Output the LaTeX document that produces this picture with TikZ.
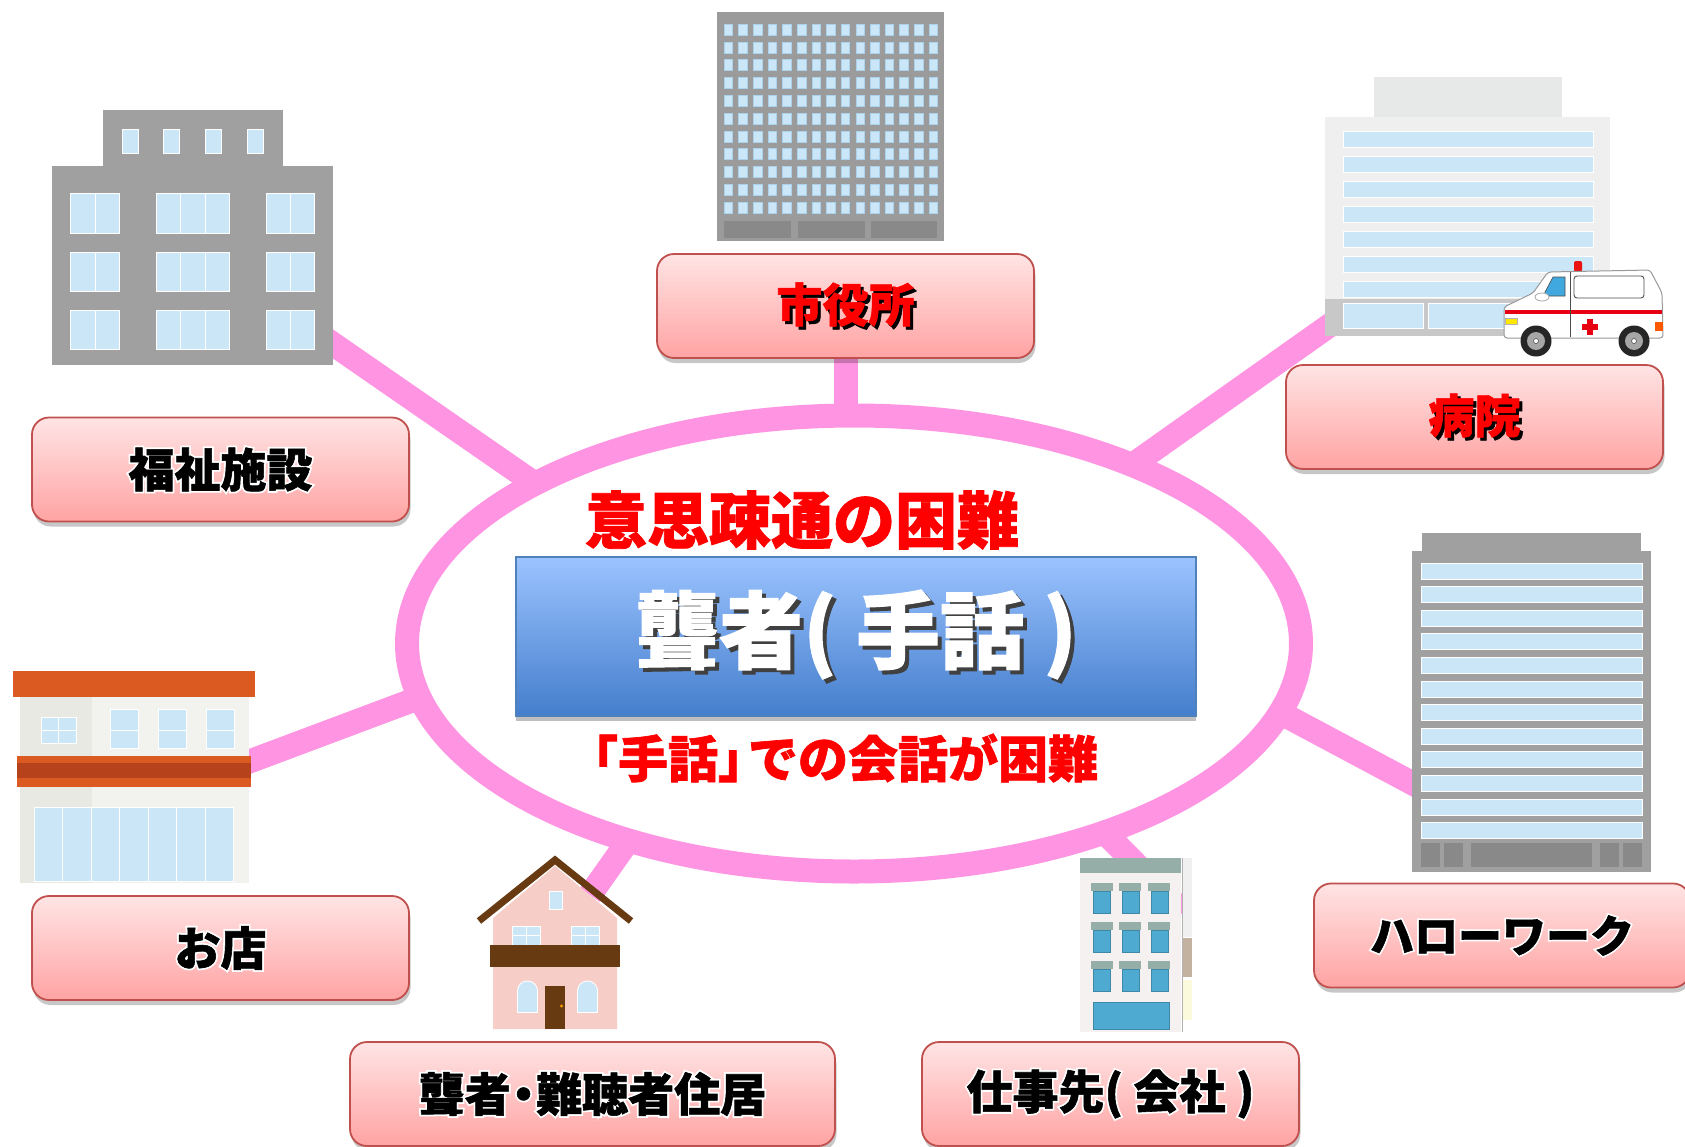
\documentclass[tikz,border=0pt]{standalone}
\usepackage{fontspec}
\setmainfont{Noto Sans CJK JP}[BoldFeatures={FakeBold=1.3}]
% a heavily emboldened face, used in white behind black lettering as a halo
\newfontfamily\halofont{Noto Sans CJK JP}[BoldFeatures={FakeBold=9}]
\usetikzlibrary{shapes.geometric,shadows}

\definecolor{spoke}{RGB}{255,148,226}
\definecolor{lblTop}{RGB}{255,228,228}
\definecolor{lblBot}{RGB}{255,163,163}
\definecolor{lblEdge}{RGB}{192,80,77}
\definecolor{glass}{RGB}{202,230,247}
\definecolor{glassEdge}{RGB}{170,210,236}
\definecolor{bldGray}{RGB}{160,160,160}
\definecolor{bldDark}{RGB}{137,137,137}
\definecolor{hospWall}{RGB}{239,239,239}
\definecolor{hospTop}{RGB}{231,232,232}
\definecolor{hospBand}{RGB}{200,200,200}
\definecolor{blueTop}{RGB}{155,195,255}
\definecolor{blueBot}{RGB}{68,126,204}
\definecolor{blueEdge}{RGB}{79,129,189}
\definecolor{txtRed}{RGB}{255,0,0}
\definecolor{shopRoof}{RGB}{218,90,34}
\definecolor{shopBand}{RGB}{181,66,26}
\definecolor{shopWall}{RGB}{242,242,238}
\definecolor{shopWallDk}{RGB}{233,233,228}
\definecolor{houseWall}{RGB}{246,205,199}
\definecolor{houseBrown}{RGB}{104,58,18}
\definecolor{officeCap}{RGB}{150,174,168}
\definecolor{officeWall}{RGB}{245,241,240}
\definecolor{officeBlue}{RGB}{79,170,210}
\definecolor{ambRed}{RGB}{230,0,18}
\definecolor{ambBlue}{RGB}{64,168,222}

% text with a hard cast shadow: text colour, shadow colour, offset, text
\newcommand\castshadow[4]{\leavevmode\rlap{\hspace{#3}\raisebox{-#3}{\color{#2}#4}}{\color{#1}#4}}
% black lettering on a white halo
\newcommand\haloed[1]{\leavevmode\rlap{\halofont\bfseries\color{white}#1}{\color{black}#1}}
% narrow middle dot and corner brackets
\newcommand\middot{\makebox[0.55em]{・}}
\newcommand\lbrk{\makebox[0.6em][r]{「}}
\newcommand\rbrk{\makebox[0.6em][l]{」}}

\begin{document}
\begin{tikzpicture}[x=1pt,y=-1pt,
  tag/.style={draw=lblEdge, line width=1.8pt, rounded corners=17pt,
    top color=lblTop, bottom color=lblBot, minimum height=104pt, inner sep=0pt,
    drop shadow={shadow xshift=1.5pt, shadow yshift=-5pt, opacity=0.22, fill=black},
    font=\bfseries\fontsize{46}{50}\selectfont},
  spokeline/.style={draw=spoke, line width=24pt},
  pane/.style={fill=glass, draw=white, line width=1pt},
  strip/.style={fill=glass, draw=white, line width=1pt}]

\useasboundingbox (0,0) rectangle (1685,1146);
\fill[white] (0,0) rectangle (1685,1146);

% ---------- spokes (under the ring) ----------
\coordinate (spT1) at (846,350);   \coordinate (spT2) at (846,470);
\coordinate (spUL1) at (320,335);  \coordinate (spUL2) at (599,528);
\coordinate (spUR1) at (1340,318); \coordinate (spUR2) at (1080,502);
\coordinate (spL1) at (240,765);   \coordinate (spL2) at (480,675);
\coordinate (spR1) at (1425,790);  \coordinate (spR2) at (1230,686);
\coordinate (spBL1) at (590,895);  \coordinate (spBL2) at (650,810);
\coordinate (spBR1) at (1183,912); \coordinate (spBR2) at (1060,787);
\foreach \s in {T,UL,UR,L,R,BL,BR}
  \draw[spokeline] (sp\s1) -- (sp\s2);

% ---------- ring ----------
\node[ellipse, draw=spoke, line width=24pt, fill=white, minimum width=894pt,
      minimum height=456pt, inner sep=0pt] (ring) at (854,643.5) {};

% ---------- centre ----------
\node[font=\bfseries\fontsize{62}{66}\selectfont, text=txtRed] (commdiff) at (802,520) {意思疎通の困難};
\node[draw=blueEdge, line width=1.2pt, top color=blueTop, bottom color=blueBot,
      minimum width=680pt, minimum height=159pt, inner sep=0pt,
      drop shadow={shadow xshift=0pt, shadow yshift=-5pt, opacity=0.25, fill=black},
      font=\bfseries\fontsize{84}{88}\selectfont] (deaf) at (856,636.5)
      {\castshadow{white}{black!75}{4pt}{聾者( 手話 )}};
\node[font=\bfseries\fontsize{50}{54}\selectfont, text=txtRed] (signtalk) at (843,758) {\lbrk 手話\rbrk での会話が困難};

% ---------- welfare facility building ----------
\fill[bldGray] (103,110) rectangle (283,166);
\fill[bldGray] (52,166) rectangle (333,365);
\foreach \x in {122,163,205,247}
  \filldraw[pane] (\x,129) rectangle +(16,24);
\foreach \y/\h in {193/40,252/39,310/39}{
  \filldraw[pane] (70,\y) rectangle +(25,\h);
  \filldraw[pane] (95,\y) rectangle +(24,\h);
  \filldraw[pane] (156,\y) rectangle +(24,\h);
  \filldraw[pane] (180,\y) rectangle +(25,\h);
  \filldraw[pane] (205,\y) rectangle +(24,\h);
  \filldraw[pane] (266,\y) rectangle +(24,\h);
  \filldraw[pane] (290,\y) rectangle +(24,\h);
}

% ---------- city hall building ----------
\fill[bldGray!97!black] (717,12) rectangle (944,241);
\foreach \i in {0,...,14}
  \foreach \j in {0,...,10}
    \filldraw[fill=glass, draw=glassEdge, line width=0.4pt] ({724+\i*14.64},{24+\j*17.8}) rectangle +(8.5,11);
\fill[bldDark] (724,221) rectangle (791,238);
\fill[bldDark] (798,221) rectangle (865,238);
\fill[bldDark] (871,221) rectangle (937,238);

% ---------- hospital ----------
\fill[hospTop] (1374,77) rectangle (1562,117);
\fill[hospWall] (1325,117) rectangle (1610,336);
\foreach \k in {0,...,6}
  \filldraw[strip] (1343,{131+\k*25}) rectangle (1593,{147+\k*25});
\fill[hospBand] (1325,299) rectangle (1610,336);
\filldraw[pane] (1343,303) rectangle (1423,328);
\filldraw[pane] (1428,303) rectangle (1560,328);

% ambulance
\fill[ambRed!85!orange, rounded corners=2pt] (1574,261) rectangle (1582,272);
\filldraw[fill=white, draw=gray!80, line width=1pt, rounded corners=3pt]
  (1504,307) -- (1533,293) -- (1548,272) -- (1650,270) -- (1662,293) -- (1663,338) -- (1504,338) -- cycle;
\fill[ambRed] (1505,310) rectangle (1662,314);
\draw[gray!60!black, line width=0.9pt, rounded corners=3pt] (1574,276) rectangle (1644,298);
\draw[gray!60!black, line width=0.9pt] (1570,272) -- (1570,337);
\filldraw[fill=ambBlue, draw=gray!60!black, line width=0.6pt]
  (1545,292) -- (1553,277) -- (1565,277) -- (1565,296) -- (1545,296) -- cycle;
\filldraw[fill=white, draw=gray!70, line width=0.8pt] (1542,297) ellipse [x radius=7, y radius=4];
\fill[ambRed] (1587,319) rectangle (1593,335);
\fill[ambRed] (1582,324) rectangle (1598,330);
\filldraw[fill=yellow!90!orange, draw=gray!60, line width=0.5pt] (1505,318) rectangle (1517,324);
\fill[orange!70!red] (1655,322) rectangle (1663,331);
\foreach \wx in {1536,1634}{
  \fill[black!85] (\wx,341) circle (15.5);
  \fill[gray!70] (\wx,341) circle (9);
  \filldraw[fill=white, draw=gray!60!black, line width=0.6pt] (\wx,341) circle (2.5);
}

% ---------- shop ----------
\fill[shopWall] (20,697) rectangle (249,883);
\fill[shopWallDk] (20,697) rectangle (92,883);
\fill[shopRoof] (13,671) rectangle (255,697);
\filldraw[pane] (41,717) rectangle (58.5,730);
\filldraw[pane] (58.5,717) rectangle (76,730);
\filldraw[pane] (41,730) rectangle (58.5,743);
\filldraw[pane] (58.5,730) rectangle (76,743);
\foreach \x in {110,158,206}{
  \filldraw[pane] (\x,709) rectangle +(28,21);
  \filldraw[pane] (\x,730) rectangle +(28,18);
}
\fill[shopRoof] (17,756) rectangle (251,787);
\fill[shopBand] (17,763) rectangle (251,778);
\foreach \k in {0,...,6}
  \filldraw[pane] ({34+\k*28.57},807) rectangle +(28.57,74);

% ---------- Hello Work building ----------
\fill[bldGray] (1422,533) rectangle (1641,551);
\fill[bldGray] (1412,551) rectangle (1651,872);
\foreach \k in {0,...,11}
  \filldraw[strip] (1421,{563+\k*23.6}) rectangle (1642,{579+\k*23.6});
\foreach \a/\b in {1421/1440,1444/1463,1471/1592,1600/1619,1623/1642}
  \fill[bldDark] (\a,843) rectangle (\b,867);

% ---------- house ----------
\fill[houseWall] (493,1029) -- (493,918) -- (555,866) -- (617,918) -- (617,1029) -- cycle;
\draw[houseBrown, line width=7pt] (479,921) -- (555,860) -- (631,921);
\filldraw[pane] (549,891) rectangle (562,909);
\foreach \x in {512,571}{
  \filldraw[pane] (\x,926) rectangle +(14,9.5);
  \filldraw[pane] (\x+14,926) rectangle +(14,9.5);
  \filldraw[pane] (\x,935.5) rectangle +(14,9.5);
  \filldraw[pane] (\x+14,935.5) rectangle +(14,9.5);
}
\fill[houseBrown] (490,945) rectangle (620,967);
\foreach \x in {518,578}{
  \fill[white] (\x-1,992) rectangle (\x+20,1013);
  \fill[white] (\x+9.5,991) circle (10.5);
  \fill[glass] (\x,992) rectangle (\x+19,1012);
  \fill[glass] (\x+9.5,991) circle (9.5);
}
\fill[houseBrown] (545,986) rectangle (565,1029);
\fill[orange!80!yellow] (561.5,1006) circle (1.6);

% ---------- company building ----------
\fill[officeWall] (1080,873) rectangle (1181,1032);
\fill[officeCap] (1080,858) rectangle (1181,873);
\foreach \r in {883,922,961}
  \foreach \c/\w in {1091/1093,1119/1122,1148/1151}{
    \fill[officeCap] (\c,\r) rectangle +(22,8);
    \filldraw[fill=officeBlue, draw=officeBlue!80!black, line width=0.4pt] (\w,\r+8) rectangle +(17,22);
  }
\filldraw[fill=officeBlue, draw=officeBlue!80!black, line width=0.4pt] (1093,1002) rectangle (1169,1029);
\draw[gray!60, line width=1pt] (1182,858) -- (1182,1032);
\fill[gray!12] (1183,858) rectangle (1192,937);
\fill[brown!45!gray!60] (1183,938) rectangle (1192,977);
\fill[gray!20!yellow!15] (1183,980) rectangle (1192,1020);

% ---------- place labels ----------
\node[tag, minimum width=377pt] (cityhall) at (845.5,306)
  {\castshadow{txtRed}{black}{3pt}{市役所}};
\node[tag, minimum width=377pt] (welfare) at (220.5,469.5) {\haloed{福祉施設}};
\node[tag, minimum width=377pt] (hospital) at (1474.5,417)
  {\castshadow{txtRed}{black}{3pt}{病院}};
\node[tag, minimum width=377pt] (shop) at (220.5,948) {\haloed{お店}};
\node[tag, minimum width=376pt] (hellowork) at (1502,935.5)
  {\fontsize{44}{48}\selectfont\haloed{ハローワーク}};
\node[tag, minimum width=485pt] (residence) at (592.5,1094)
  {\haloed{聾者\middot 難聴者住居}};
\node[tag, minimum width=377pt] (workplace) at (1110.5,1094) {\haloed{仕事先( 会社 )}};

\end{tikzpicture}
\end{document}
